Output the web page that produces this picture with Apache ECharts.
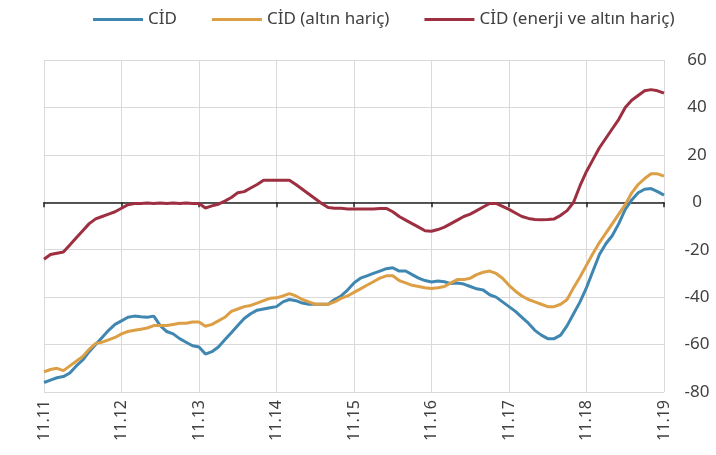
<!DOCTYPE html>
<html>
<head>
<meta charset="utf-8">
<script src="https://cdn.jsdelivr.net/npm/echarts@6.0.0/dist/echarts.min.js"></script>
<style>
  html, body { margin: 0; padding: 0; background: #fff; }
  #chart { width: 716px; height: 455px; }
</style>
</head>
<body>
<div id="chart"></div>
<script>
// tick labels on the x axis (MM.YY, every November)
const tickLabels = ["11.11", "11.12", "11.13", "11.14", "11.15", "11.16", "11.17", "11.18", "11.19"];

// monthly categories Nov 2011 .. Nov 2019
const months = [];
for (let y = 11; y <= 19; y++) {
  for (let m = 1; m <= 12; m++) {
    if ((y === 11 && m < 11) || (y === 19 && m > 11)) continue;
    months.push(String(m).padStart(2, "0") + "." + y);
  }
}

const seriesNames = ["CİD", "CİD (altın hariç)", "CİD (enerji ve altın hariç)"];

const cid = [
  -76, -75, -74, -73.5, -72, -69, -66.5, -63, -60, -57, -54, -51.5,
  -50, -48.5, -48, -48.3, -48.5, -48, -52, -54.5, -55.5, -57.5, -59, -60.5,
  -61, -64, -63, -61, -58, -55, -52, -49, -47, -45.5, -45, -44.5,
  -44, -42, -41, -41.5, -42.5, -43, -43, -43, -43, -41, -39.5, -37,
  -34, -32, -31, -30, -29, -28, -27.6, -29, -29, -30.5, -32, -33,
  -33.6, -33.2, -33.5, -34.3, -34, -34.5, -35.5, -36.5, -37, -39, -40, -42,
  -44, -46, -48.5, -51, -54, -56, -57.5, -57.5, -56, -52, -47, -42,
  -36, -29, -22, -17.5, -14, -9, -3, 1, 4, 5.5, 5.8, 4.5,
  3
];

const cidExGold = [
  -71.5, -70.5, -70, -71, -69, -67, -65, -62, -59.5, -59, -58, -57,
  -55.5, -54.5, -54, -53.5, -53, -52, -52, -52, -51.5, -51, -51, -50.5,
  -50.5, -52.3, -51.5, -50, -48.5, -46, -45, -44, -43.5, -42.5, -41.5, -40.5,
  -40.3, -39.5, -38.5, -39.5, -41, -42, -43, -43, -43, -42, -40.5, -39.5,
  -38, -36.5, -35, -33.5, -32, -31, -31, -33, -34, -35, -35.5, -36,
  -36.4, -36, -35.5, -34, -32.6, -32.6, -32, -30.5, -29.5, -29, -30, -32,
  -35, -37.5, -39.5, -41, -42, -43, -44, -44, -43, -41, -36, -31.5,
  -26.5, -21.6, -17, -13, -9, -5, -1, 4, 7.5, 10, 12, 12,
  11
];

const cidExEnergyGold = [
  -24, -22, -21.5, -21, -18, -15, -12, -9, -7, -6, -5, -4,
  -2.5, -1, -0.5, -0.5, -0.3, -0.5, -0.3, -0.5, -0.3, -0.5, -0.3, -0.5,
  -0.5, -2.4, -1.5, -0.8, 0.5, 2, 4, 4.5, 6, 7.5, 9.3, 9.3,
  9.3, 9.3, 9.3, 7.5, 5.5, 3.5, 1.5, -0.5, -2.2, -2.5, -2.5, -2.8,
  -2.8, -2.8, -2.8, -2.8, -2.6, -2.6, -4, -6, -7.5, -9, -10.5, -12,
  -12.2, -11.5, -10.5, -9, -7.5, -6, -5, -3.5, -2, -0.5, -0.5, -1.7,
  -3, -4.5, -6, -6.8, -7.3, -7.4, -7.3, -7, -5.5, -3.5, 0, 7,
  13, 18, 23, 27, 31, 35, 40, 43, 45, 47, 47.5, 47,
  46
];

const colors = ["#3f87b1", "#dc9f45", "#9d2f41"];
const fontFamily = "'Noto Sans', sans-serif";

const chart = echarts.init(document.getElementById("chart"));

const isTick = (idx) => tickLabels.includes(months[idx]);

chart.setOption({
  animation: false,
  color: colors,
  textStyle: { fontFamily },
  legend: {
    top: 6,
    left: 88,
    itemGap: 35,
    itemWidth: 50,
    itemHeight: 3,
    icon: "rect",
    textStyle: { fontSize: 17, color: "#404040", fontFamily },
    data: seriesNames,
  },
  grid: { left: 44, right: 52, top: 60, bottom: 63 },
  xAxis: [
    {
      type: "category",
      data: months,
      boundaryGap: false,
      position: "bottom",
      axisLine: { show: false, onZero: false },
      axisTick: { show: false },
      axisLabel: {
        interval: (idx) => isTick(idx),
        rotate: 90,
        margin: 8,
        fontSize: 16,
        color: "#404040",
      },
      splitLine: {
        show: true,
        interval: (idx) => isTick(idx),
        lineStyle: { color: "#d9d9d9", width: 1 },
      },
    },
    {
      // black zero line with short ticks
      type: "category",
      data: months,
      boundaryGap: false,
      position: "top",
      axisLine: { show: true, onZero: true, onZeroAxisIndex: 0, lineStyle: { color: "#222", width: 1.5 } },
      axisTick: {
        show: true,
        inside: true,
        length: 5,
        interval: (idx) => isTick(idx),
        lineStyle: { color: "#222", width: 1.5 },
      },
      axisLabel: { show: false },
      splitLine: { show: false },
    },
  ],
  yAxis: {
    type: "value",
    position: "right",
    min: -80,
    max: 60,
    interval: 20,
    axisLine: { show: false },
    axisTick: { show: false },
    axisLabel: { fontSize: 17, color: "#404040", margin: 33, align: "center" },
    splitLine: { lineStyle: { color: "#d9d9d9", width: 1 } },
  },
  series: [
    { name: seriesNames[0], data: cid },
    { name: seriesNames[1], data: cidExGold },
    { name: seriesNames[2], data: cidExEnergyGold },
  ].map((s) => ({
    ...s,
    type: "line",
    xAxisIndex: 0,
    showSymbol: false,
    lineStyle: { width: 3 },
    z: 3,
  })),
});
</script>
</body>
</html>
